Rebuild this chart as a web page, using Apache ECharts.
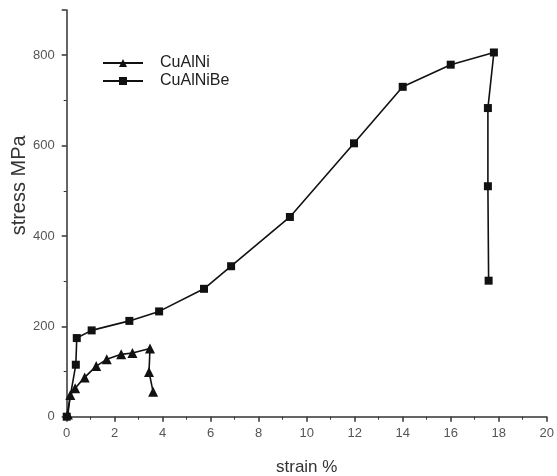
<!DOCTYPE html>
<html>
<head>
<meta charset="utf-8">
<script src="https://cdn.jsdelivr.net/npm/echarts@6/dist/echarts.min.js"></script>
<style>
html,body{margin:0;padding:0;background:#fff;}
#main{width:557px;height:476px;}
</style>
</head>
<body>
<div id="main"></div>
<script>
// CuAlNi 曲线 (strain %, stress MPa)
var cuAlNi = [
	[0.05, 5], [0.15, 48], [0.35, 63], [0.75, 87], [1.23, 112], [1.67, 127],
	[2.27, 138], [2.74, 141], [3.47, 151], [3.43, 99], [3.6, 55]
];
// CuAlNiBe 曲线
var cuAlNiBe = [
	[0, 0], [0.38, 115], [0.42, 174], [1.04, 191], [2.61, 212], [3.85, 233],
	[5.72, 283], [6.85, 333], [9.3, 442], [11.97, 605], [14.0, 730], [16.0, 779],
	[17.8, 806], [17.55, 683], [17.55, 510], [17.58, 301]
];
var seriesNames = ['CuAlNi', 'CuAlNiBe'];

var myChart = echarts.init(document.getElementById('main'));
var axisColor = '#333';
var labelColor = '#555';
var option = {
	animation: false,
	backgroundColor: '#fff',
	legend: {
		orient: 'vertical',
		left: 102,
		top: 55,
		padding: 0,
		itemWidth: 40,
		itemHeight: 10,
		itemGap: 2,
		textStyle: { color: '#222', fontSize: 16, fontFamily: 'Liberation Sans', padding: [0, 0, 0, 12] },
		data: seriesNames
	},
	grid: { left: 66.7, right: 10.3, top: 10, bottom: 59.3, containLabel: false, outerBoundsMode: 'none' },
	xAxis: {
		type: 'value',
		min: 0,
		max: 20,
		interval: 2,
		name: 'strain %',
		nameLocation: 'middle',
		nameGap: 42,
		nameMoveOverlap: false,
		nameTextStyle: { color: '#333', fontSize: 17, fontFamily: 'Liberation Sans' },
		axisLine: { show: true, lineStyle: { color: axisColor, width: 1.5 } },
		axisTick: { show: true, length: 5, lineStyle: { color: axisColor, width: 1.5 } },
		minorTick: { show: true, splitNumber: 2, length: 3, lineStyle: { color: axisColor } },
		axisLabel: { color: labelColor, fontSize: 13, margin: 10, fontFamily: 'Liberation Sans' },
		splitLine: { show: false }
	},
	yAxis: {
		type: 'value',
		min: 0,
		max: 900,
		interval: 200,
		name: 'stress MPa',
		nameLocation: 'middle',
		nameGap: 37,
		nameMoveOverlap: false,
		nameTextStyle: { color: '#333', fontSize: 20, fontFamily: 'Liberation Sans', padding: [0, 0, 0, 56] },
		axisLine: { show: true, lineStyle: { color: axisColor, width: 1.5 } },
		axisTick: { show: true, length: 5, lineStyle: { color: axisColor, width: 1.5 } },
		minorTick: { show: true, splitNumber: 2, length: 3, lineStyle: { color: axisColor } },
		axisLabel: { color: labelColor, fontSize: 13, margin: 12, showMaxLabel: false, fontFamily: 'Liberation Sans' },
		splitLine: { show: false }
	},
	series: [{
		name: seriesNames[0],
		type: 'line',
		data: cuAlNi,
		symbol: 'triangle',
		symbolSize: 10,
		clip: false,
		itemStyle: { color: '#111' },
		lineStyle: { color: '#111', width: 1.6 }
	}, {
		name: seriesNames[1],
		type: 'line',
		data: cuAlNiBe,
		symbol: 'rect',
		symbolSize: 8,
		clip: false,
		itemStyle: { color: '#111' },
		lineStyle: { color: '#111', width: 1.6 }
	}]
};
myChart.setOption(option);
</script>
</body>
</html>
